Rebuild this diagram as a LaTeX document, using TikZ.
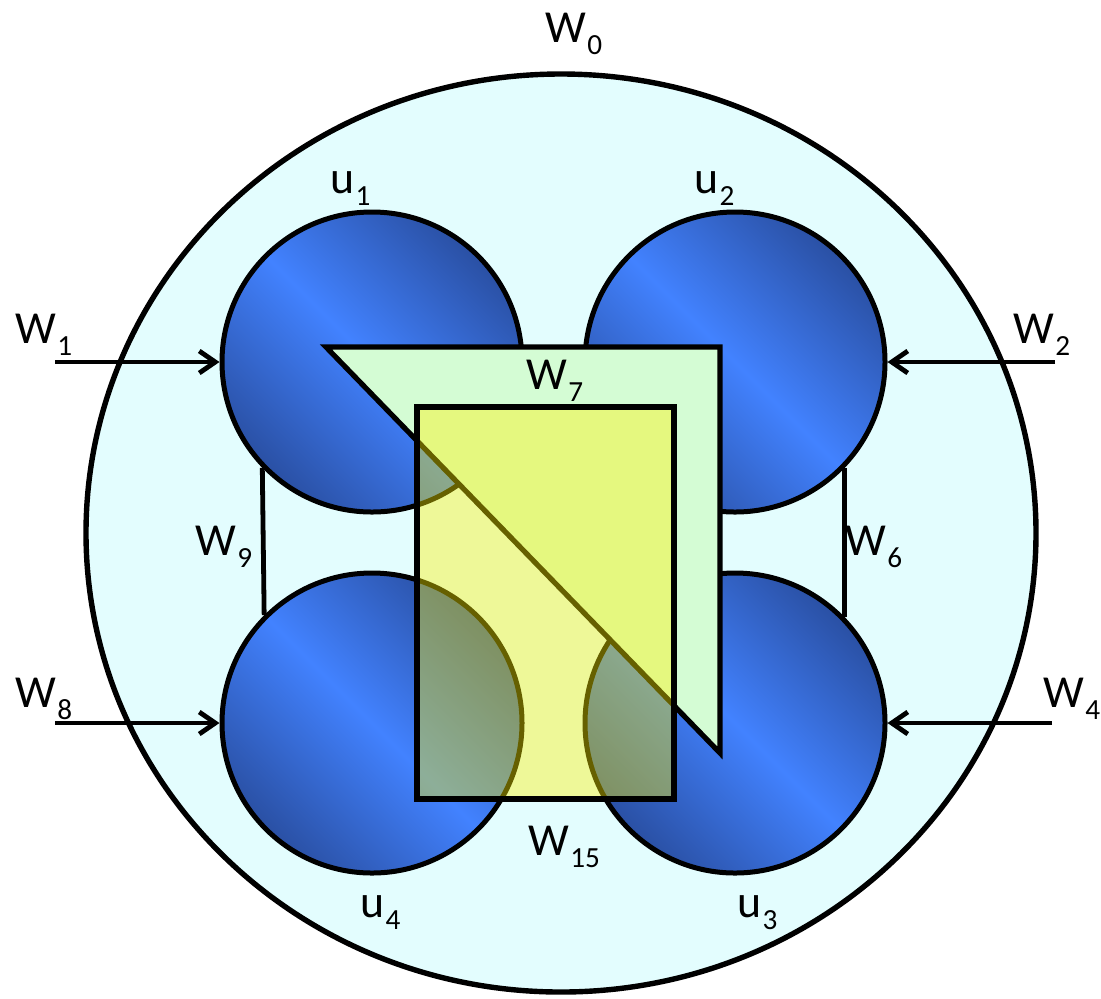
\documentclass[tikz,border=0pt]{standalone}
\usepackage{fontspec}
\setmainfont{Carlito}
\usetikzlibrary{arrows.meta,shapes.geometric}
\definecolor{bgc}{RGB}{227,253,254}
\definecolor{cdark}{RGB}{42,80,164}
\definecolor{cbright}{RGB}{66,130,255}
\definecolor{trifill}{RGB}{212,252,212}
\newcommand\lbl[2]{#1\kern0.6pt\raisebox{-6pt}{\fontsize{14.6}{16}\selectfont #2}}
\begin{document}
\begin{tikzpicture}[x=0.5pt,y=-0.5pt,
  lab/.style={anchor=base west, inner sep=0, font=\fontsize{22.9}{26}\selectfont},
  ball/.style={circle, draw, line width=2.5pt, minimum size=150pt, inner sep=0,
    top color=cdark, bottom color=cdark, middle color=cbright, shading angle=-45},
  arr/.style={line width=2.4pt, -{Straight Barb[length=8pt,width=11pt]}},
  conn/.style={line width=2.4pt},
  shapeline/.style={line width=2.6pt}]
\useasboundingbox (0,0) rectangle (1101,998);
\node[ellipse, draw, line width=2.7pt, fill=bgc, minimum width=475pt, minimum height=459pt, inner sep=0] (outer) at (561,533) {};
\node[ball] (u1) at (372,362) {};
\node[ball] (u2) at (735,362) {};
\node[ball] (u3) at (735,723) {};
\node[ball] (u4) at (372,723) {};
\draw[conn] (u1.224.5) -- (u4.135.5);
\draw[conn] (u2.-44.5) -- (u3.44.5);
\coordinate (s1) at (55,362);
\coordinate (s2) at (1055,362);
\coordinate (s8) at (55,723);
\coordinate (s4) at (1052,723);
\draw[arr] (s1) -- (u1.west);
\draw[arr] (s2) -- (u2.east);
\draw[arr] (s8) -- (u4.west);
\draw[arr] (s4) -- (u3.east);
\draw[shapeline, fill=trifill] (326,347) -- (720,347) -- (720,753) -- cycle;
\draw[shapeline, fill=yellow, fill opacity=0.4] (417,407) rectangle (674,799);
\node[lab] (lw0) at (545,42) {\lbl{W}{0}};
\node[lab] (lu1) at (330,193) {\lbl{u}{1}};
\node[lab] (lu2) at (694,193) {\lbl{u}{2}};
\node[lab] (lw1) at (15,343) {\lbl{W}{1}};
\node[lab] (lw2) at (1013,343) {\lbl{W}{2}};
\node[lab] (lw7) at (526,389) {\lbl{W}{7}};
\node[lab] (lw9) at (195,555) {\lbl{W}{9}};
\node[lab] (lw6) at (845,555) {\lbl{W}{6}};
\node[lab] (lw8) at (15,707) {\lbl{W}{8}};
\node[lab] (lw4) at (1043,707) {\lbl{W}{4}};
\node[lab] (lw15) at (528,855) {\lbl{W}{15}};
\node[lab] (lu4) at (360,917) {\lbl{u}{4}};
\node[lab] (lu3) at (737,917) {\lbl{u}{3}};
\end{tikzpicture}
\end{document}
